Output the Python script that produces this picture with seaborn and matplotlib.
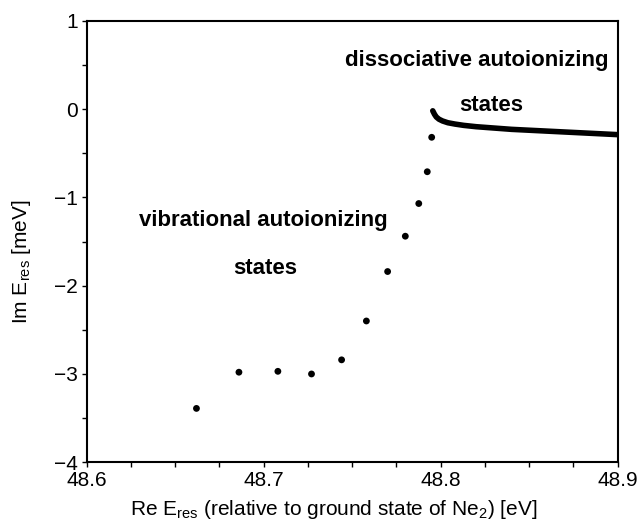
import matplotlib
matplotlib.use("Agg")
import matplotlib.pyplot as plt
import matplotlib.transforms as mtransforms
import seaborn as sns
import pandas as pd
from matplotlib.ticker import MultipleLocator, FormatStrFormatter

# Vibrational autoionizing resonances (discrete states)
vib_re = [48.662, 48.686, 48.708, 48.727, 48.744, 48.758, 48.770,
          48.780, 48.7876, 48.7924, 48.7949]
vib_im = [-3.39, -2.98, -2.97, -3.00, -2.84, -2.40, -1.84,
          -1.44, -1.07, -0.71, -0.32]

# Dissociative autoionizing states (dense continuum of resonances)
dis_re = [48.7955, 48.7965, 48.7975, 48.799, 48.801, 48.804, 48.808,
          48.813, 48.820, 48.830, 48.840, 48.850, 48.860, 48.870,
          48.880, 48.890, 48.900]
dis_im = [-0.02, -0.06, -0.09, -0.115, -0.135, -0.155, -0.17,
          -0.185, -0.20, -0.215, -0.23, -0.24, -0.25, -0.26,
          -0.27, -0.28, -0.29]

vib = pd.DataFrame({"re": vib_re, "im": vib_im})
dis = pd.DataFrame({"re": dis_re, "im": dis_im})

sns.set_theme(style="ticks")
plt.rcParams["font.family"] = ["Liberation Sans", "DejaVu Sans"]
plt.rcParams["mathtext.default"] = "regular"
plt.rcParams["text.color"] = "black"
plt.rcParams["axes.labelcolor"] = "black"

fig = plt.figure(figsize=(6.39, 5.22), dpi=100)
ax = fig.add_axes([0.1357, 0.1144, 0.831, 0.8459])

sns.lineplot(data=dis, x="re", y="im", ax=ax, color="black",
             linewidth=4.0, solid_capstyle="round", sort=True)
sns.scatterplot(data=vib, x="re", y="im", ax=ax, color="black",
                s=24, edgecolor="none")

ax.set_xlim(48.6, 48.9)
ax.set_ylim(-4, 1)
ax.xaxis.set_major_locator(MultipleLocator(0.1))
ax.xaxis.set_minor_locator(MultipleLocator(0.025))
ax.yaxis.set_major_locator(MultipleLocator(1))
ax.yaxis.set_minor_locator(MultipleLocator(0.5))
ax.xaxis.set_major_formatter(FormatStrFormatter("%.1f"))

for s in ax.spines.values():
    s.set_linewidth(1.5)
    s.set_color("black")
ax.tick_params(which="both", direction="out", length=3.5, width=1,
               color="black", labelsize=15, labelcolor="black")
ax.tick_params(axis="x", which="both", pad=3.0)
ax.tick_params(axis="y", which="both", pad=3.0)
ax.tick_params(top=False, right=False, which="both")

# Lift the bottom y tick label a little so it clears the first x label
lift = mtransforms.ScaledTranslation(0, 5 / 72, fig.dpi_scale_trans)
bottom_tick = ax.yaxis.get_major_ticks()[0]
bottom_tick.label1.set_transform(bottom_tick.label1.get_transform() + lift)

ax.set_xlabel("Re E$_{res}$ (relative to ground state of Ne$_2$) [eV]",
              fontsize=15)
ax.set_ylabel("Im E$_{res}$ [meV]", fontsize=15)
ax.xaxis.set_label_coords(0.466, -0.082)
ax.yaxis.set_label_coords(-0.101, 0.4536)

label_kw = dict(fontsize=16, fontweight="bold", ha="center", va="center",
                color="black")
ax.text(48.6996, -1.26, "vibrational autoionizing", **label_kw)
ax.text(48.7007, -1.81, "states", **label_kw)
ax.text(48.8206, 0.55, "dissociative autoionizing", **label_kw)
ax.text(48.8284, 0.045, "states", **label_kw)

fig.savefig("out.png", dpi=100)
